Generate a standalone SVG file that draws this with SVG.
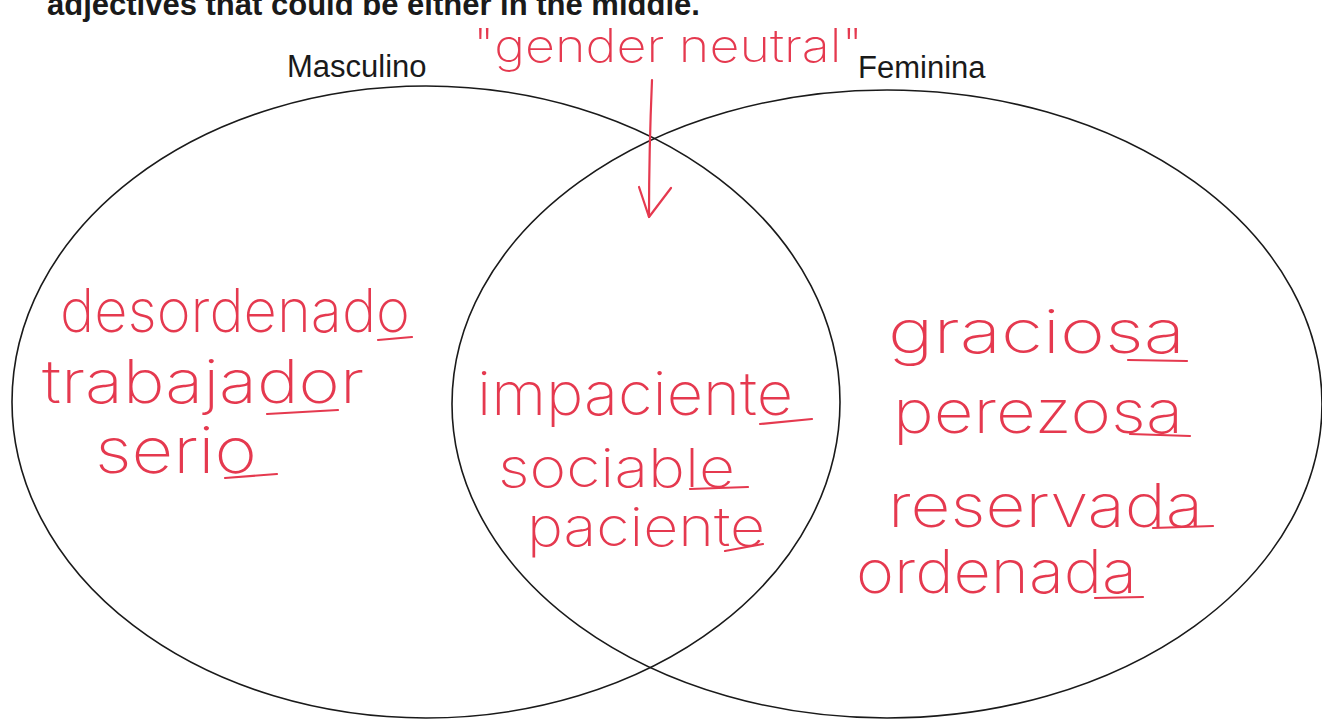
<svg xmlns="http://www.w3.org/2000/svg" width="1322" height="719" viewBox="0 0 1322 719">
<style>
.set{fill:none;stroke:#1a1a1a;stroke-width:1.6}
.lbl{font-family:"Liberation Sans",Arial,sans-serif;font-size:31px;fill:#1a1a1a}
.hdr{font-family:"Liberation Sans",Arial,sans-serif;font-size:31px;font-weight:bold;fill:#1a1a1a}
.hw{font-family:Inter,"Open Sans","Liberation Sans",sans-serif;font-weight:200;font-size:60px;fill:#e5394f}
.ul{fill:none;stroke:#e5394f;stroke-width:2.2;stroke-linecap:round}
.arr{fill:none;stroke:#e5394f;stroke-width:2.2;stroke-linecap:round;stroke-linejoin:round}
</style>
<rect width="1322" height="719" fill="#ffffff"/>
<g id="header"><text class="hdr" x="47" y="15">adjectives that could be either in the middle.</text></g>
<g id="set-masculino">
<ellipse class="set" cx="426" cy="402" rx="414" ry="316"/>
<text class="lbl" x="287" y="77">Masculino</text>
</g>
<g id="set-feminina">
<ellipse class="set" cx="887" cy="404" rx="435" ry="314"/>
<text class="lbl" x="858" y="78">Feminina</text>
</g>
<g id="note-gender-neutral">
<text class="hw" style="font-size:46px" x="473" y="62" textLength="390" lengthAdjust="spacingAndGlyphs">"gender neutral"</text>
</g>
<g id="words-masculino">
<text class="hw" x="60" y="332" textLength="350" lengthAdjust="spacingAndGlyphs">desordenado</text>
<path class="ul" d="M378 340 L412 337"/>
<text class="hw" x="42" y="403" textLength="322" lengthAdjust="spacingAndGlyphs">trabajador</text>
<path class="ul" d="M267 414 L338 410"/>
<text class="hw" style="font-size:64px" x="95" y="473" textLength="162" lengthAdjust="spacingAndGlyphs">serio</text>
<path class="ul" d="M225 478 L277 474"/>
</g>
<g id="words-neutral">
<text class="hw" x="477" y="415" textLength="316" lengthAdjust="spacingAndGlyphs">impaciente</text>
<path class="ul" d="M760 424 L812 419"/>
<text class="hw" style="font-size:54px" x="498" y="487" textLength="237" lengthAdjust="spacingAndGlyphs">sociable</text>
<path class="ul" d="M690 489 L748 487"/>
<text class="hw" style="font-size:54px" x="527" y="546" textLength="238" lengthAdjust="spacingAndGlyphs">paciente</text>
<path class="ul" d="M725 551 L763 544"/>
</g>
<g id="words-feminina">
<text class="hw" x="888" y="353" textLength="297" lengthAdjust="spacingAndGlyphs">graciosa</text>
<path class="ul" d="M1128 360 L1187 361"/>
<text class="hw" x="893" y="433" textLength="290" lengthAdjust="spacingAndGlyphs">perezosa</text>
<path class="ul" d="M1130 434 L1190 436"/>
<text class="hw" x="888" y="527" textLength="315" lengthAdjust="spacingAndGlyphs">reservada</text>
<path class="ul" d="M1153 528 L1213 526"/>
<text class="hw" x="856" y="593" textLength="281" lengthAdjust="spacingAndGlyphs">ordenada</text>
<path class="ul" d="M1095 598 L1143 597"/>
</g>
<g id="connectors">
<path class="arr" d="M652 80 Q649 150 649 217"/>
<path class="arr" d="M639 187 L649 217 L671 188"/>
</g>
</svg>
